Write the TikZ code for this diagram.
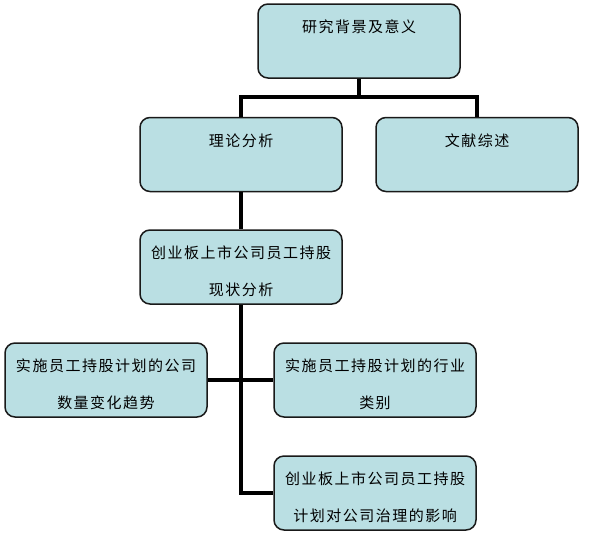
\documentclass[tikz,border=0pt]{standalone}
\usepackage{fontspec}
\newfontfamily\cjk[LetterSpace=10]{Noto Sans CJK SC}
\usepackage{tikz}
\definecolor{boxfill}{RGB}{186,223,227}

\begin{document}
\begin{tikzpicture}[x=1pt,y=-1pt,
  box/.style={draw=black!90,line width=1.5pt,fill=boxfill,rounded corners=10pt,
    minimum width=202pt,minimum height=74pt,align=center,
    font=\cjk\fontsize{15}{37}\selectfont,text height=22pt,text depth=39pt},
  twoline/.style={box,text height=59pt,text depth=2pt},
  link/.style={line width=4pt}]
\useasboundingbox (0,0) rectangle (593,541);
\node[box] (bj) at (359,41) {研究背景及意义};
\node[box] (llfx) at (241,154.5) {理论分析};
\node[box] (wxzs) at (477,154.5) {文献综述};
\node[twoline] (xzfx) at (241,267) {创业板上市公司员工持股\\现状分析};
\node[twoline] (slbh) at (106,380) {实施员工持股计划的公司\\数量变化趋势};
\node[twoline] (hylb) at (375,380) {实施员工持股计划的行业\\类别};
\node[twoline] (zlyx) at (375,493) {创业板上市公司员工持股\\计划对公司治理的影响};
\coordinate (fen) at (359,97);
\draw[link] (bj.south) -- (fen) -| (llfx.north);
\draw[link] (fen) -| (wxzs.north);
\draw[link] (llfx.south) -- (xzfx.north);
\draw[link] (xzfx.south) |- (zlyx.west);
\draw[link] (slbh.east) -- (hylb.west);
\end{tikzpicture}
\end{document}
